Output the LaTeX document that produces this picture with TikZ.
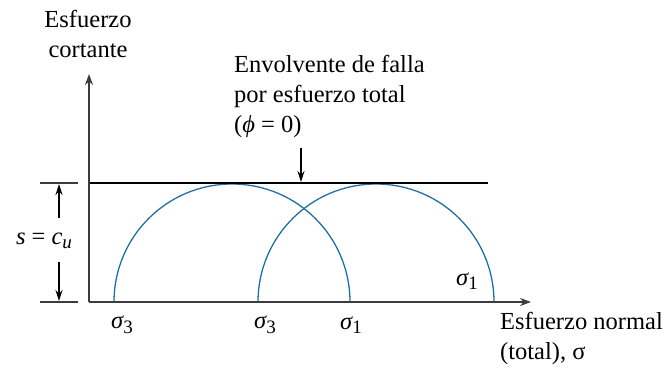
\documentclass[tikz,border=0pt]{standalone}
\usepackage{fontspec}
\setmainfont{Liberation Serif}
\usetikzlibrary{arrows.meta}
\definecolor{circblue}{RGB}{30,112,165}
\definecolor{axgray}{RGB}{60,60,60}
\newcommand{\sig}[1]{{\itshape σ}\raisebox{-0.4ex}{\fontsize{19}{19}\selectfont #1}}
\tikzset{
  lbl/.style={inner sep=0pt, font=\rmfamily\fontsize{24.5}{30}\selectfont},
  axis/.style={axgray, line width=1.8pt, -{Stealth[length=11pt,width=8pt]}},
  circ/.style={circblue, line width=1.3pt},
  dimarrow/.style={black, line width=1.2pt, -{Stealth[length=11pt,width=7pt]}},
  tick/.style={axgray, line width=1.5pt},
}
\begin{document}
\begin{tikzpicture}[x=1pt,y=-1pt]
\useasboundingbox (0,0) rectangle (667,367);
% coordinates
\coordinate (O) at (89,302);
\coordinate (ytip) at (89,74);
\coordinate (xtip) at (531,302);
\coordinate (envL) at (89,183);
\coordinate (envR) at (488,183);
% circles
\draw[circ] (114,302) arc[start angle=180, end angle=360, radius=118];
\draw[circ] (258,302) arc[start angle=180, end angle=360, radius=118];
% envelope
\draw[black, line width=2.8pt] (envL) -- (envR);
% axes
\draw[axis] (O) -- (ytip);
\draw[axis] (O) -- (xtip);
% dimension marks
\coordinate (t1a) at (40,183); \coordinate (t1b) at (78,183);
\coordinate (t2a) at (40,302); \coordinate (t2b) at (78,302);
\draw[tick] (t1a) -- (t1b);
\draw[tick] (t2a) -- (t2b);
\node[lbl] (s) at (44,241) {\itshape s \upshape = \itshape c\raisebox{-0.4ex}{\fontsize{19}{19}\selectfont u}};
\coordinate (aup) at (59,218);
\coordinate (adn) at (59,262);
\draw[dimarrow] (aup) -- (59,184);
\draw[dimarrow] (adn) -- (59,301);
% labels
\node[lbl, align=center] (ylab) at (88,34) {Esfuerzo\\cortante};
\node[lbl, align=left, anchor=north west] (env) at (234,55) {Envolvente de falla\\por esfuerzo total\\(\textit{ϕ} = 0)};
\coordinate (earr) at (301,148);
\draw[dimarrow] (earr) -- (301,182);
\node[lbl] (s3a) at (122,325) {\sig{3}};
\node[lbl] (s3b) at (265,325) {\sig{3}};
\node[lbl] (s1a) at (351,325) {\sig{1}};
\node[lbl] (s1b) at (467,281) {\sig{1}};
\node[lbl, align=left, anchor=north west] (xlab) at (500,312) {Esfuerzo normal\\(total), σ};
\end{tikzpicture}
\end{document}
